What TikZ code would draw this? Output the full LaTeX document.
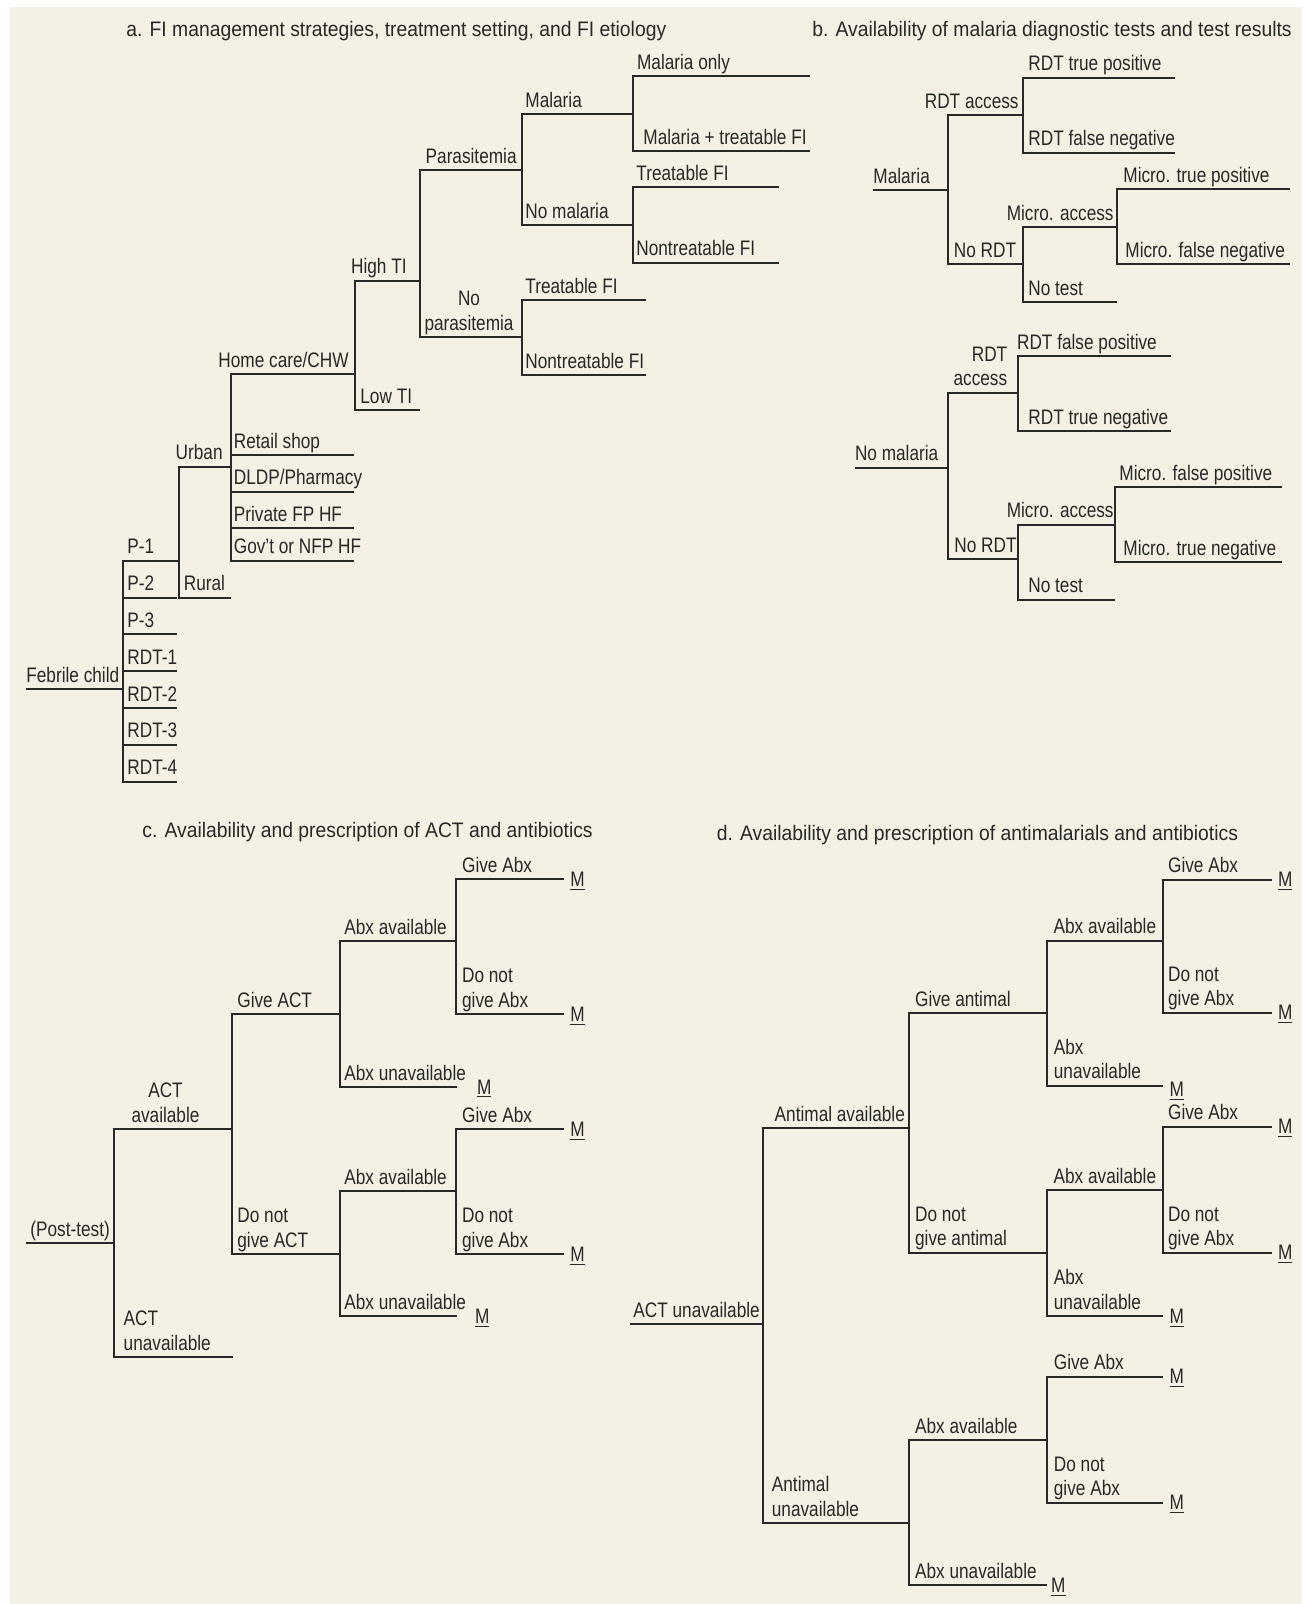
\documentclass[tikz,border=0pt]{standalone}
\usepackage{fontspec}
\setmainfont{Liberation Sans}[FakeStretch=0.82]
\newfontfamily\ttlfont{Liberation Sans}[FakeStretch=0.92]
\usetikzlibrary{positioning}
\definecolor{panelbg}{RGB}{244,240,227}
\definecolor{ink}{RGB}{40,40,40}

\begin{document}
\begin{tikzpicture}[x=0.5pt, y=-0.5pt,
    br/.style={draw=ink, line width=1pt},
    txt/.style={font=\fontsize{10.5}{12.3}\selectfont, text=ink, inner sep=0pt,
      text depth=0pt},
    lab/.style={txt, align=left, anchor=south west, yshift=3.2pt},
    rlab/.style={lab, anchor=south east, align=right},
    clab/.style={lab, anchor=south, align=center},
    ttl/.style={txt, font=\ttlfont\fontsize{10.5}{12.3}\selectfont, anchor=south west},
    mk/.style={txt, anchor=west, xshift=3pt}]
  \useasboundingbox (0,0) rectangle (1302,1604);
  \fill[white] (0,0) rectangle (1302,1604);
  \fill[panelbg] (10,7) rectangle (1302,1604);

  % ---------- a. FI management strategies ----------
  \node[ttl] (ta) at (126,36.7) {a. FI management strategies, treatment setting, and FI etiology};
  \coordinate (a0s) at (26,689);
  \coordinate (a0) at (123,689);
  \coordinate (aP1) at (179.3,560.7);
  \coordinate (aP2) at (177,597.5);
  \coordinate (aP3) at (177,634.3);
  \coordinate (aR1) at (177,671.1);
  \coordinate (aR2) at (177,707.9);
  \coordinate (aR3) at (177,744.7);
  \coordinate (aR4) at (177,781.5);
  \coordinate (aUrb) at (230.6,466.7);
  \coordinate (aRur) at (230.6,597.5);
  \coordinate (aHome) at (354.5,374);
  \coordinate (aRet) at (354,455);
  \coordinate (aDLDP) at (354,491.7);
  \coordinate (aPriv) at (354,528.3);
  \coordinate (aGov) at (354,560.5);
  \coordinate (aHigh) at (420,280.7);
  \coordinate (aLow) at (420,410);
  \coordinate (aPara) at (522,170);
  \coordinate (aNoPara) at (522,337.3);
  \coordinate (aMal) at (633.4,114);
  \coordinate (aNoMal) at (633.4,225.3);
  \coordinate (aMOnly) at (810,76.5);
  \coordinate (aMTr) at (810,151.5);
  \coordinate (aTr1) at (779,187.3);
  \coordinate (aNtr1) at (779,262.7);
  \coordinate (aTr2) at (646,300);
  \coordinate (aNtr2) at (646,375);

  \draw[br] (a0s) -- (a0);
  \draw[br] (a0) |- (aP1);
  \draw[br] (a0) |- (aP2);
  \draw[br] (a0) |- (aP3);
  \draw[br] (a0) |- (aR1);
  \draw[br] (a0) |- (aR2);
  \draw[br] (a0) |- (aR3);
  \draw[br] (a0) |- (aR4);
  \draw[br] (aP1) |- (aUrb);
  \draw[br] (aP1) |- (aRur);
  \draw[br] (aUrb) |- (aHome);
  \draw[br] (aUrb) |- (aRet);
  \draw[br] (aUrb) |- (aDLDP);
  \draw[br] (aUrb) |- (aPriv);
  \draw[br] (aUrb) |- (aGov);
  \draw[br] (aHome) |- (aHigh);
  \draw[br] (aHome) |- (aLow);
  \draw[br] (aHigh) |- (aPara);
  \draw[br] (aHigh) |- (aNoPara);
  \draw[br] (aPara) |- (aMal);
  \draw[br] (aPara) |- (aNoMal);
  \draw[br] (aMal) |- (aMOnly);
  \draw[br] (aMal) |- (aMTr);
  \draw[br] (aNoMal) |- (aTr1);
  \draw[br] (aNoMal) |- (aNtr1);
  \draw[br] (aNoPara) |- (aTr2);
  \draw[br] (aNoPara) |- (aNtr2);

  \node[lab] (tFeb) at (26,689) {Febrile child};
  \node[lab] (tP1) at (127,560.7) {P-1};
  \node[lab] (tP2) at (127,597.5) {P-2};
  \node[lab] (tP3) at (127,634.3) {P-3};
  \node[lab] (tR1) at (127,671.1) {RDT-1};
  \node[lab] (tR2) at (127,707.9) {RDT-2};
  \node[lab] (tR3) at (127,744.7) {RDT-3};
  \node[lab] (tR4) at (127,781.5) {RDT-4};
  \node[rlab] (tUrb) at (223,466.7) {Urban};
  \node[lab] (tRur) at (183.5,597.5) {Rural};
  \node[rlab] (tHome) at (349,374) {Home care/CHW};
  \node[lab] (tRet) at (233.5,455) {Retail shop};
  \node[lab] (tDLDP) at (233.5,491.7) {DLDP/Pharmacy};
  \node[lab] (tPriv) at (233.5,528.3) {Private FP HF};
  \node[lab] (tGov) at (233.5,560.5) {Gov’t or NFP HF};
  \node[rlab] (tHigh) at (407,280.7) {High TI};
  \node[lab] (tLow) at (360,410) {Low TI};
  \node[rlab] (tPara) at (517,170) {Parasitemia};
  \node[clab] (tNoPara) at (469,337.3) {No\\parasitemia};
  \node[lab] (tMal) at (525,114) {Malaria};
  \node[lab] (tNoMal) at (525,225.3) {No malaria};
  \node[lab] (tMOnly) at (636.7,76.5) {Malaria only};
  \node[lab] (tMTr) at (643,151.5) {Malaria + treatable FI};
  \node[lab] (tTr1) at (636,187.3) {Treatable FI};
  \node[lab] (tNtr1) at (636,262.7) {Nontreatable FI};
  \node[lab] (tTr2) at (525,300) {Treatable FI};
  \node[lab] (tNtr2) at (525,375) {Nontreatable FI};

  % ---------- b. diagnostic tests ----------
  \node[ttl] (tb) at (812,36.7) {b. Availability of malaria diagnostic tests and test results};
  \coordinate (bMal0) at (873,190);
  \coordinate (bMal) at (947.7,190);
  \coordinate (bRDT) at (1023,115.3);
  \coordinate (bNoRDT) at (1023,264);
  \coordinate (bTP) at (1174.7,77.7);
  \coordinate (bFN) at (1174.7,152.7);
  \coordinate (bMic) at (1116.5,227);
  \coordinate (bNoT) at (1116.5,302);
  \coordinate (bMTP) at (1290,189.3);
  \coordinate (bMFN) at (1290,264.3);
  \coordinate (bNM0) at (854.6,467.7);
  \coordinate (bNM) at (947.7,467.7);
  \coordinate (bRDT2) at (1017.6,392.7);
  \coordinate (bNoRDT2) at (1017.6,559.3);
  \coordinate (bFP) at (1170.6,356);
  \coordinate (bTN) at (1170.6,431.3);
  \coordinate (bMic2) at (1114.9,524.7);
  \coordinate (bNoT2) at (1114.9,599.7);
  \coordinate (bMFP) at (1282,487);
  \coordinate (bMTN) at (1282,562.3);

  \draw[br] (bMal0) -- (bMal);
  \draw[br] (bMal) |- (bRDT);
  \draw[br] (bMal) |- (bNoRDT);
  \draw[br] (bRDT) |- (bTP);
  \draw[br] (bRDT) |- (bFN);
  \draw[br] (bNoRDT) |- (bMic);
  \draw[br] (bNoRDT) |- (bNoT);
  \draw[br] (bMic) |- (bMTP);
  \draw[br] (bMic) |- (bMFN);
  \draw[br] (bNM0) -- (bNM);
  \draw[br] (bNM) |- (bRDT2);
  \draw[br] (bNM) |- (bNoRDT2);
  \draw[br] (bRDT2) |- (bFP);
  \draw[br] (bRDT2) |- (bTN);
  \draw[br] (bNoRDT2) |- (bMic2);
  \draw[br] (bNoRDT2) |- (bNoT2);
  \draw[br] (bMic2) |- (bMFP);
  \draw[br] (bMic2) |- (bMTN);

  \node[lab] (tbMal) at (873,190) {Malaria};
  \node[rlab] (tbRDT) at (1019,115.3) {RDT access};
  \node[lab] (tbTP) at (1028,77.7) {RDT true positive};
  \node[lab] (tbFN) at (1028,152.7) {RDT false negative};
  \node[lab] (tbNoRDT) at (953.5,264) {No RDT};
  \node[rlab] (tbMic) at (1114,227) {Micro. access};
  \node[lab] (tbNoT) at (1028,302) {No test};
  \node[lab] (tbMTP) at (1123,189.3) {Micro. true positive};
  \node[lab] (tbMFN) at (1125,264.3) {Micro. false negative};
  \node[lab] (tbNM) at (854.6,467.7) {No malaria};
  \node[rlab] (tbRDT2) at (1007.6,392.7) {RDT\\access};
  \node[lab] (tbFP) at (1016.7,356) {RDT false positive};
  \node[lab] (tbTN) at (1028,431.3) {RDT true negative};
  \node[lab] (tbNoRDT2) at (954,559.3) {No RDT};
  \node[rlab] (tbMic2) at (1114,524.7) {Micro. access};
  \node[lab] (tbNoT2) at (1028,599.7) {No test};
  \node[lab] (tbMFP) at (1119,487) {Micro. false positive};
  \node[lab] (tbMTN) at (1123,562.3) {Micro. true negative};

  % ---------- c. ACT and antibiotics ----------
  \node[ttl] (tc) at (142,837.5) {c. Availability and prescription of ACT and antibiotics};
  \coordinate (cPT0) at (26,1242.9);
  \coordinate (cPT) at (113.6,1242.9);
  \coordinate (cAA) at (231.5,1129);
  \coordinate (cAU) at (232.7,1357);
  \coordinate (cGive) at (340,1014.3);
  \coordinate (cNoGive) at (340,1254.3);
  \coordinate (cAbxA1) at (455.8,941.4);
  \coordinate (cAbxU1) at (456.6,1086.8);
  \coordinate (cGA1) at (564,879.3);
  \coordinate (cNG1) at (564,1014.3);
  \coordinate (cAbxA2) at (455.8,1191);
  \coordinate (cAbxU2) at (456.6,1316);
  \coordinate (cGA2) at (564,1129);
  \coordinate (cNG2) at (564,1254.3);

  \draw[br] (cPT0) -- (cPT);
  \draw[br] (cPT) |- (cAA);
  \draw[br] (cPT) |- (cAU);
  \draw[br] (cAA) |- (cGive);
  \draw[br] (cAA) |- (cNoGive);
  \draw[br] (cGive) |- (cAbxA1);
  \draw[br] (cGive) |- (cAbxU1);
  \draw[br] (cAbxA1) |- (cGA1);
  \draw[br] (cAbxA1) |- (cNG1);
  \draw[br] (cNoGive) |- (cAbxA2);
  \draw[br] (cNoGive) |- (cAbxU2);
  \draw[br] (cAbxA2) |- (cGA2);
  \draw[br] (cAbxA2) |- (cNG2);

  \node[lab] (tcPT) at (30,1242.9) {(Post-test)};
  \node[clab] (tcAA) at (165.5,1129) {ACT\\available};
  \node[lab] (tcAU) at (123.3,1357) {ACT\\unavailable};
  \node[lab] (tcGive) at (237,1014.3) {Give ACT};
  \node[lab] (tcNoGive) at (237,1254.3) {Do not\\give ACT};
  \node[lab] (tcAbxA1) at (344,941.4) {Abx available};
  \node[lab] (tcAbxU1) at (344,1086.8) {Abx unavailable};
  \node[lab] (tcGA1) at (461.7,879.3) {Give Abx};
  \node[lab] (tcNG1) at (461.7,1014.3) {Do not\\give Abx};
  \node[lab] (tcAbxA2) at (344,1191) {Abx available};
  \node[lab] (tcAbxU2) at (344,1316) {Abx unavailable};
  \node[lab] (tcGA2) at (461.7,1129) {Give Abx};
  \node[lab] (tcNG2) at (461.7,1254.3) {Do not\\give Abx};
  \node[mk] (mcGA1) at (cGA1) {\underline{M}};
  \node[mk] (mcNG1) at (cNG1) {\underline{M}};
  \node[mk, xshift=7pt] (mcAbxU1) at (cAbxU1) {\underline{M}};
  \node[mk] (mcGA2) at (cGA2) {\underline{M}};
  \node[mk] (mcNG2) at (cNG2) {\underline{M}};
  \node[mk, xshift=6pt] (mcAbxU2) at (cAbxU2) {\underline{M}};

  % ---------- d. antimalarials and antibiotics ----------
  \node[ttl] (td) at (716.4,840.7) {d. Availability and prescription of antimalarials and antibiotics};
  \coordinate (dAU0) at (629.5,1324);
  \coordinate (dAU) at (763.4,1324);
  \coordinate (dAA) at (908.9,1128);
  \coordinate (dAUn) at (908.9,1523.3);
  \coordinate (dGive) at (1046.8,1013.3);
  \coordinate (dNoGive) at (1046.8,1252.7);
  \coordinate (dAbxA1) at (1163.2,940.7);
  \coordinate (dAbxU1) at (1163.2,1085.7);
  \coordinate (dGA1) at (1271.6,879.7);
  \coordinate (dNG1) at (1271.6,1012.7);
  \coordinate (dAbxA2) at (1163.2,1190);
  \coordinate (dAbxU2) at (1163.2,1316);
  \coordinate (dGA2) at (1271.6,1126.7);
  \coordinate (dNG2) at (1271.6,1252.7);
  \coordinate (dAbxA3) at (1046.8,1440);
  \coordinate (dAbxU3) at (1046.8,1585.3);
  \coordinate (dGA3) at (1163.2,1376.7);
  \coordinate (dNG3) at (1163.2,1502.7);

  \draw[br] (dAU0) -- (dAU);
  \draw[br] (dAU) |- (dAA);
  \draw[br] (dAU) |- (dAUn);
  \draw[br] (dAA) |- (dGive);
  \draw[br] (dAA) |- (dNoGive);
  \draw[br] (dGive) |- (dAbxA1);
  \draw[br] (dGive) |- (dAbxU1);
  \draw[br] (dAbxA1) |- (dGA1);
  \draw[br] (dAbxA1) |- (dNG1);
  \draw[br] (dNoGive) |- (dAbxA2);
  \draw[br] (dNoGive) |- (dAbxU2);
  \draw[br] (dAbxA2) |- (dGA2);
  \draw[br] (dAbxA2) |- (dNG2);
  \draw[br] (dAUn) |- (dAbxA3);
  \draw[br] (dAUn) |- (dAbxU3);
  \draw[br] (dAbxA3) |- (dGA3);
  \draw[br] (dAbxA3) |- (dNG3);

  \node[lab] (tdAU) at (633,1324) {ACT unavailable};
  \node[rlab] (tdAA) at (905.3,1128) {Antimal available};
  \node[lab] (tdAUn) at (771.5,1523.3) {Antimal\\unavailable};
  \node[lab] (tdGive) at (914.7,1013.3) {Give antimal};
  \node[lab] (tdNoGive) at (914.7,1252.7) {Do not\\give antimal};
  \node[rlab] (tdAbxA1) at (1156.5,940.7) {Abx available};
  \node[lab] (tdAbxU1) at (1053.5,1085.7) {Abx\\unavailable};
  \node[lab] (tdGA1) at (1167.7,879.7) {Give Abx};
  \node[lab] (tdNG1) at (1167.7,1012.7) {Do not\\give Abx};
  \node[rlab] (tdAbxA2) at (1156.5,1190) {Abx available};
  \node[lab] (tdAbxU2) at (1053.5,1316) {Abx\\unavailable};
  \node[lab] (tdGA2) at (1167.7,1126.7) {Give Abx};
  \node[lab] (tdNG2) at (1167.7,1252.7) {Do not\\give Abx};
  \node[lab] (tdAbxA3) at (914.7,1440) {Abx available};
  \node[lab] (tdAbxU3) at (914.7,1585.3) {Abx unavailable};
  \node[lab] (tdGA3) at (1053.5,1376.7) {Give Abx};
  \node[lab] (tdNG3) at (1053.5,1502.7) {Do not\\give Abx};
  \node[mk] (mdGA1) at (dGA1) {\underline{M}};
  \node[mk] (mdNG1) at (dNG1) {\underline{M}};
  \node[mk, yshift=-2pt] (mdAbxU1) at (dAbxU1) {\underline{M}};
  \node[mk] (mdGA2) at (dGA2) {\underline{M}};
  \node[mk] (mdNG2) at (dNG2) {\underline{M}};
  \node[mk] (mdAbxU2) at (dAbxU2) {\underline{M}};
  \node[mk] (mdGA3) at (dGA3) {\underline{M}};
  \node[mk] (mdNG3) at (dNG3) {\underline{M}};
  \node[mk, xshift=-1pt] (mdAbxU3) at (dAbxU3) {\underline{M}};
\end{tikzpicture}
\end{document}
